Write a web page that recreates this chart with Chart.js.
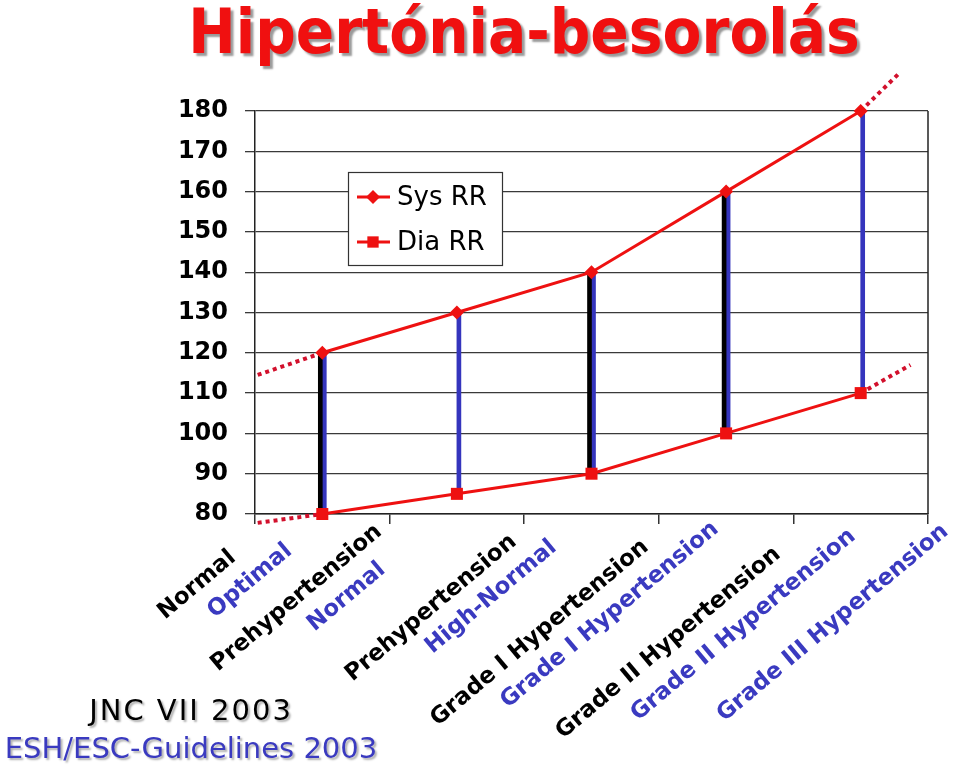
<!DOCTYPE html>
<html>
<head>
<meta charset="utf-8">
<title>Hipertónia-besorolás</title>
<script src="https://cdn.jsdelivr.net/npm/chart.js@4.4.1/dist/chart.umd.min.js"></script>
<style>
  body { margin: 0; background: #fff; }
  #wrap { position: relative; width: 960px; height: 766px; overflow: hidden; }
  #title {
    position: absolute; left: 0; top: 0px; width: 1048px; text-align: center;
    font: bold 63px/63px 'DejaVu Sans Condensed', 'DejaVu Sans', sans-serif;
    color: #f01010; text-shadow: 3px 3px 2px #9a9a9a; white-space: nowrap;
  }
  .note {
    position: absolute; left: 0; width: 382px; text-align: center;
    font: 29px/29px 'DejaVu Sans', sans-serif; white-space: nowrap;
    text-shadow: 2px 2px 2px #b0b0b0;
  }
  #jnc { top: 696px; color: #000; letter-spacing: 2px; }
  #esc { top: 734px; color: #3a3ac0; }
</style>
</head>
<body>
<div id="wrap">
  <canvas id="bpChart" width="960" height="766"></canvas>
  <div id="title">Hipertónia-besorolás</div>
  <div class="note" id="jnc">JNC VII 2003</div>
  <div class="note" id="esc">ESH/ESC-Guidelines 2003</div>
</div>
<script>
// values
const sysRR = [120, 130, 140, 160, 180];
const diaRR = [80, 85, 90, 100, 110];
const jncBars = [0, 2, 3];            // categories with a JNC VII (black) boundary
const yMin = 80, yMax = 180, yStep = 10;

// labels sit under the tick marks (one more than the categories)
const jncLabels = ['Normal', 'Prehypertension', 'Prehypertension', 'Grade I Hypertension', 'Grade II Hypertension', ''];
const escLabels = ['Optimal', 'Normal', 'High-Normal', 'Grade I Hypertension', 'Grade II Hypertension', 'Grade III Hypertension'];

// dotted, hand-drawn extensions at both ends [x index, value]
const sysLeadIn = [[-0.48, 114.5], [0, 120]];
const sysLeadOut = [[4, 180], [4.29, 189.5]];
const diaLeadIn = [[-0.48, 77.8], [0, 80]];
const diaLeadOut = [[4, 110], [4.37, 117]];

// layout: centre of each label line relative to its tick mark [dx, dy]
const jncLabelPos = [[-58, 71], [-93, 84], [-93, 94], [-119, 119], [-125, 129], null];
const escLabelPos = [[-5, 67], [-43, 83], [-33, 83], [-49, 101], [-50, 111], [-95, 109]];

const RED = '#ee1111';
const DOT_RED = '#d2102c';
const BLUE = '#3535bd';
const TXT_BLUE = '#3a3ac0';
const FONT = "'DejaVu Sans', sans-serif";

const toPts = arr => arr.map(([x, y]) => ({ x, y }));
const seriesPts = vals => vals.map((v, i) => ({ x: i, y: v }));

const overlay = {
    id: 'overlay',
    beforeDatasetsDraw(chart) {
        const { ctx, chartArea: a } = chart;
        ctx.save();
        ctx.strokeStyle = '#222';
        ctx.lineWidth = 1.5;
        ctx.beginPath();
        ctx.moveTo(a.right, a.top);
        ctx.lineTo(a.right, a.bottom);
        ctx.stroke();
        ctx.restore();
    },
    afterDraw(chart) {
        const { ctx, chartArea: a, scales: { x } } = chart;
        ctx.save();

        // rotated two-colour category labels
        ctx.font = 'bold 23px ' + FONT;
        ctx.textAlign = 'center';
        ctx.textBaseline = 'middle';
        const ang = -40 * Math.PI / 180;
        const put = (text, pos, colour, i) => {
            if (!text || !pos) return;
            const bx = x.getPixelForValue(i - 0.5);
            ctx.save();
            ctx.translate(bx + pos[0], a.bottom + pos[1]);
            ctx.rotate(ang);
            ctx.fillStyle = colour;
            ctx.fillText(text, 0, 0);
            ctx.restore();
        };
        jncLabels.forEach((t, i) => put(t, jncLabelPos[i], '#000', i));
        escLabels.forEach((t, i) => put(t, escLabelPos[i], TXT_BLUE, i));

        // legend box
        const lx = 348, ly = 172, lw = 154, lh = 93;
        ctx.fillStyle = '#fff';
        ctx.fillRect(lx, ly, lw, lh);
        ctx.strokeStyle = '#333';
        ctx.lineWidth = 1.2;
        ctx.strokeRect(lx + 0.5, ly + 0.5, lw, lh);
        const items = [
            { label: 'Sys RR', style: 'rectRot', radius: 7, y: ly + 25 },
            { label: 'Dia RR', style: 'rect', radius: 8, y: ly + 70 }
        ];
        items.forEach(it => {
            ctx.strokeStyle = RED;
            ctx.lineWidth = 3;
            ctx.beginPath();
            ctx.moveTo(lx + 9, it.y);
            ctx.lineTo(lx + 42, it.y);
            ctx.stroke();
            ctx.fillStyle = RED;
            Chart.helpers.drawPoint(ctx, { pointStyle: it.style, radius: it.radius, rotation: 0, borderWidth: 0 }, lx + 25, it.y);
            ctx.fillStyle = '#000';
            ctx.font = '26px ' + FONT;
            ctx.textAlign = 'left';
            ctx.textBaseline = 'middle';
            ctx.fillText(it.label, lx + 49, it.y + 1);
        });
        ctx.restore();
    }
};

const dotted = pts => ({
    type: 'line',
    data: toPts(pts),
    borderColor: DOT_RED,
    borderWidth: 4,
    borderDash: [4, 4],
    pointRadius: 0,
    clip: false,
    order: 2
});

const ctx = document.getElementById('bpChart').getContext('2d');
new Chart(ctx, {
    type: 'line',
    data: {
        datasets: [
            {
                label: 'Sys RR',
                data: seriesPts(sysRR),
                borderColor: RED,
                backgroundColor: RED,
                borderWidth: 3,
                pointStyle: 'rectRot',
                pointRadius: 7,
                pointBorderWidth: 0,
                clip: false,
                order: 1
            },
            {
                label: 'Dia RR',
                data: seriesPts(diaRR),
                borderColor: RED,
                backgroundColor: RED,
                borderWidth: 3,
                pointStyle: 'rect',
                pointRadius: 8.5,
                pointBorderWidth: 0,
                clip: false,
                order: 1
            },
            dotted(sysLeadIn),
            dotted(sysLeadOut),
            dotted(diaLeadIn),
            dotted(diaLeadOut),
            {
                type: 'bar',
                label: 'JNC VII',
                data: jncBars.map(i => ({ x: i, y: [diaRR[i], sysRR[i]] })),
                backgroundColor: '#000',
                barThickness: 4,
                order: 3
            },
            {
                type: 'bar',
                label: 'ESH/ESC',
                data: sysRR.map((v, i) => ({ x: i, y: [diaRR[i], v] })),
                backgroundColor: BLUE,
                barThickness: 4,
                order: 3
            }
        ]
    },
    options: {
        responsive: false,
        animation: false,
        events: [],
        layout: { padding: { top: 111, right: 32, left: 0, bottom: 0 } },
        plugins: {
            legend: { display: false },
            tooltip: { enabled: false },
            title: { display: false }
        },
        scales: {
            x: {
                type: 'linear',
                min: -0.5,
                max: 4.5,
                offset: false,
                afterBuildTicks: s => {
                    s.ticks = sysRR.concat([0]).map((_, i) => ({ value: i - 0.5 }));
                },
                afterFit: s => { s.height = 252; },
                ticks: { display: false },
                grid: { offset: false, drawOnChartArea: false, drawTicks: true, tickLength: 10, color: '#333', lineWidth: 1.5 },
                border: { display: true, color: '#222', width: 1.5 }
            },
            y: {
                min: yMin,
                max: yMax,
                afterFit: s => { s.width = 255; },
                ticks: {
                    stepSize: yStep,
                    color: '#000',
                    padding: 17,
                    font: { family: FONT, size: 24, weight: 'bold' }
                },
                grid: { color: '#3a3a3a', lineWidth: 1.3, tickLength: 10 },
                border: { display: true, color: '#222', width: 1.5 }
            }
        }
    },
    plugins: [overlay]
});
</script>
</body>
</html>
